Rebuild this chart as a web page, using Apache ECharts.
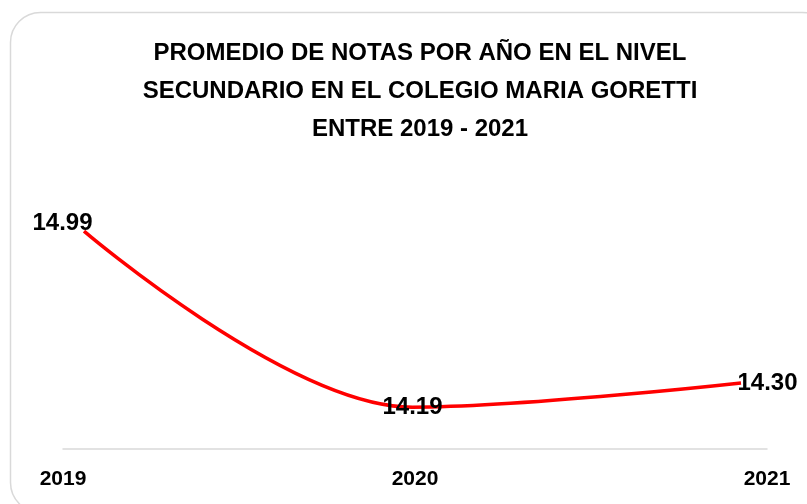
<!DOCTYPE html>
<html>
<head>
<meta charset="utf-8">
<script src="https://cdn.jsdelivr.net/npm/echarts@6/dist/echarts.min.js"></script>
<style>
    html, body { margin: 0; padding: 0; background: #ffffff; }
    #chart { width: 807px; height: 504px; }
</style>
</head>
<body>
<div id="chart"></div>
<script>
(function () {
    var years = ['2019', '2020', '2021'];
    var notas = [14.99, 14.19, 14.30];
    // where each value label sits relative to its point
    var labelPos = ['left', 'inside', 'right'];

    var font = '"Liberation Sans", Arial, sans-serif';
    var chart = echarts.init(document.getElementById('chart'));

    var points = notas.map(function (v, i) {
        var d = {value: v, label: {position: labelPos[i]}};
        if (i === 0) {
            d.label.offset = [0, -8];
            d.label.distance = -9;
        }
        return d;
    });

    var option = {
        backgroundColor: '#ffffff',
        animation: false,
        title: {
            text: 'PROMEDIO DE NOTAS POR AÑO EN EL NIVEL\nSECUNDARIO EN EL COLEGIO MARIA GORETTI\nENTRE 2019 - 2021',
            left: 415,
            top: 29,
            textAlign: 'center',
            textStyle: {
                fontFamily: font,
                fontSize: 24,
                fontWeight: 'bold',
                color: '#000000',
                lineHeight: 38,
                align: 'center'
            }
        },
        graphic: [{
            type: 'rect',
            shape: {x: 10.5, y: 12.5, width: 822, height: 500, r: 30},
            style: {fill: 'none', stroke: '#d9d9d9', lineWidth: 1.5},
            silent: true
        }],
        grid: [
            {left: 63, right: 40, top: 185, bottom: 55},   // axis line + year labels
            {left: 84, right: 66, top: 185, bottom: 55}    // the line itself
        ],
        xAxis: [
            {
                gridIndex: 0,
                type: 'category',
                boundaryGap: false,
                data: years,
                axisLine: {lineStyle: {color: '#d9d9d9', width: 1.5}},
                axisTick: {show: false},
                axisLabel: {
                    margin: 20,
                    fontFamily: font,
                    fontSize: 21,
                    fontWeight: 'bold',
                    color: '#000000'
                }
            },
            {
                gridIndex: 1,
                type: 'category',
                boundaryGap: false,
                data: years,
                show: false
            }
        ],
        yAxis: [
            {gridIndex: 0, type: 'value', min: 14, max: 15.2, show: false},
            {gridIndex: 1, type: 'value', min: 14, max: 15.2, show: false}
        ],
        series: [{
            type: 'line',
            xAxisIndex: 1,
            yAxisIndex: 1,
            smooth: 0.35,
            showSymbol: true,
            symbol: 'circle',
            symbolSize: 1,
            itemStyle: {color: 'rgba(255,0,0,0)'},
            lineStyle: {color: '#ff0000', width: 3.5},
            label: {
                show: true,
                distance: -4,
                fontFamily: font,
                fontSize: 24,
                fontWeight: 'bold',
                color: '#000000',
                formatter: function (p) {
                    return p.value.toFixed(2);
                }
            },
            data: points
        }]
    };
    chart.setOption(option);

    window.addEventListener('resize', function () {
        chart.resize();
    });
}());
</script>
</body>
</html>
